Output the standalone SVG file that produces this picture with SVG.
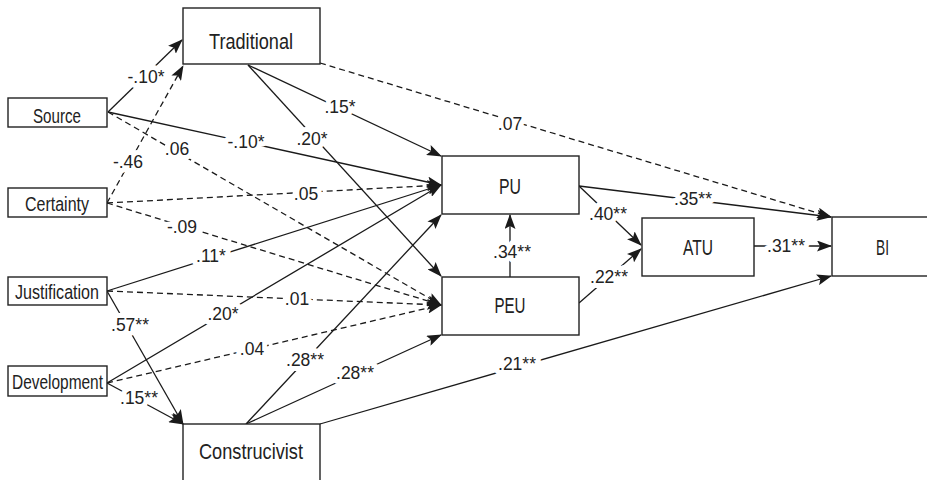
<svg xmlns="http://www.w3.org/2000/svg" width="927" height="480" viewBox="0 0 927 480">
<style>
.box{fill:#fff;stroke:#222;stroke-width:1.4}
.nl{font-family:"Liberation Sans",Arial,sans-serif;fill:#222;text-anchor:middle}
.e{fill:none;stroke:#1a1a1a;stroke-width:1.3;marker-end:url(#ah)}
.d{stroke-dasharray:6 4}
.el{font-family:"Liberation Sans",Arial,sans-serif;font-size:17.5px;fill:#222;text-anchor:middle;stroke:#fff;stroke-width:10;stroke-linejoin:round;paint-order:stroke}
</style>
<defs>
<marker id="ah" markerUnits="userSpaceOnUse" markerWidth="15" markerHeight="11" refX="14" refY="5.5" orient="auto">
<path d="M0,0 L15,5.5 L0,11 L3,5.5 z" fill="#1a1a1a"/>
</marker>
</defs>
<rect width="927" height="480" fill="#fff"/>
<g id="connectors">
<path class="e" d="M108,112 L182,40"/>
<path class="e" d="M108,112 L441,185"/>
<path class="e d" d="M108,112 L441,305"/>
<path class="e" d="M248,65 L441,156"/>
<path class="e" d="M248,65 L441,276"/>
<path class="e d" d="M320,63 L831,217"/>
<path class="e d" d="M107,203 L183,66"/>
<path class="e d" d="M107,203 L441,185"/>
<path class="e d" d="M107,203 L441,305"/>
<path class="e" d="M107,291 L441,185"/>
<path class="e d" d="M107,291 L441,305"/>
<path class="e" d="M107,291 L183,424"/>
<path class="e" d="M107,383 L183,424"/>
<path class="e" d="M107,383 L441,185"/>
<path class="e d" d="M107,383 L441,305"/>
<path class="e" d="M246,424 L441,215"/>
<path class="e" d="M246,424 L441,335"/>
<path class="e" d="M320,424 L831,276"/>
<path class="e" d="M510,277 L510,215"/>
<path class="e" d="M579,186 L641,245"/>
<path class="e" d="M579,186 L831,217"/>
<path class="e" d="M579,303 L641,249"/>
<path class="e" d="M754,246 L831,246"/>
<g id="edge-labels">
<text class="el" x="146" y="83">-.10*</text>
<text class="el" x="246" y="148">-.10*</text>
<text class="el" x="177" y="155">.06</text>
<text class="el" x="128" y="168">-.46</text>
<text class="el" x="306" y="200">.05</text>
<text class="el" x="182" y="233">-.09</text>
<text class="el" x="211" y="262">.11*</text>
<text class="el" x="297" y="305">.01</text>
<text class="el" x="223" y="320">.20*</text>
<text class="el" x="130" y="331">.57**</text>
<text class="el" x="252" y="355">.04</text>
<text class="el" x="139" y="404">.15**</text>
<text class="el" x="305" y="366">.28**</text>
<text class="el" x="355" y="379">.28**</text>
<text class="el" x="517" y="370">.21**</text>
<text class="el" x="340" y="113">.15*</text>
<text class="el" x="312" y="145">.20*</text>
<text class="el" x="510" y="130">.07</text>
<text class="el" x="512" y="258">.34**</text>
<text class="el" x="608" y="220">.40**</text>
<text class="el" x="693" y="205">.35**</text>
<text class="el" x="609" y="283">.22**</text>
<text class="el" x="786" y="252">.31**</text>
</g>
</g>
<g id="Traditional"><rect class="box" x="183" y="8" width="137" height="56"/><text class="nl" x="251" y="49" font-size="22" textLength="84" lengthAdjust="spacingAndGlyphs">Traditional</text></g>
<g id="Source"><rect class="box" x="8" y="98" width="99" height="29"/><text class="nl" x="57" y="123" font-size="20.5" textLength="48" lengthAdjust="spacingAndGlyphs">Source</text></g>
<g id="Certainty"><rect class="box" x="8" y="188" width="99" height="29"/><text class="nl" x="57" y="211" font-size="20.5" textLength="64" lengthAdjust="spacingAndGlyphs">Certainty</text></g>
<g id="Justification"><rect class="box" x="8" y="277" width="99" height="28"/><text class="nl" x="57" y="299" font-size="20.5" textLength="84" lengthAdjust="spacingAndGlyphs">Justification</text></g>
<g id="Development"><rect class="box" x="8" y="366" width="99" height="30"/><text class="nl" x="57.5" y="389" font-size="20" textLength="91" lengthAdjust="spacingAndGlyphs">Development</text></g>
<g id="Construcivist"><rect class="box" x="183" y="424" width="137" height="66"/><text class="nl" x="251" y="459" font-size="22.5" textLength="104" lengthAdjust="spacingAndGlyphs">Construcivist</text></g>
<g id="PU"><rect class="box" x="442" y="156" width="137" height="58"/><text class="nl" x="510" y="194" font-size="22" textLength="22" lengthAdjust="spacingAndGlyphs">PU</text></g>
<g id="PEU"><rect class="box" x="442" y="277" width="137" height="58"/><text class="nl" x="510" y="313" font-size="22.5" textLength="31" lengthAdjust="spacingAndGlyphs">PEU</text></g>
<g id="ATU"><rect class="box" x="642" y="218" width="112" height="58"/><text class="nl" x="698" y="255" font-size="22.5" textLength="30" lengthAdjust="spacingAndGlyphs">ATU</text></g>
<g id="BI"><rect class="box" x="832" y="217" width="110" height="59"/><text class="nl" x="882.5" y="255" font-size="22.5" textLength="13" lengthAdjust="spacingAndGlyphs">BI</text></g>
</svg>
